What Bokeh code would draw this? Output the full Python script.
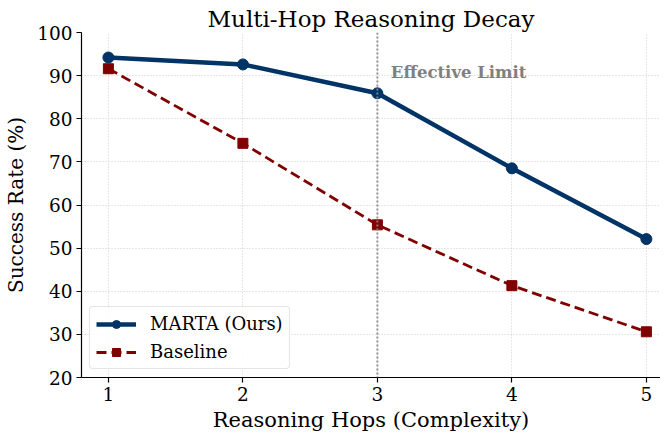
from bokeh.plotting import figure
from bokeh.models import Span, Label, Legend, LegendItem, Range1d
from bokeh.embed import file_html
from bokeh.resources import INLINE

hops = [1, 2, 3, 4, 5]
marta = [94.2, 92.6, 85.9, 68.5, 52.1]
baseline = [91.6, 74.3, 55.4, 41.3, 30.6]
yticks = [20, 30, 40, 50, 60, 70, 80, 90, 100]

FONT = "DejaVu Serif"
BLUE = "#003366"
RED = "#800000"

p = figure(width=660, height=434, output_backend="svg", toolbar_location=None,
           x_range=Range1d(0.8, 5.105), y_range=Range1d(20, 100),
           min_border_left=81, min_border_top=32, min_border_bottom=56, min_border_right=0)
p.outline_line_color = None
p.background_fill_color = "white"
p.border_fill_color = "white"

p.title.text = "Multi-Hop Reasoning Decay"
p.title.text_font = FONT
p.title.text_font_size = "23px"
p.title.text_font_style = "normal"
p.title.text_color = "black"
p.title.align = "center"
p.title.offset = -5
p.title.standoff = 2

for ax in (p.xaxis[0], p.yaxis[0]):
    ax.axis_label_text_font = FONT
    ax.axis_label_text_font_style = "normal"
    ax.axis_label_text_color = "black"
    ax.major_label_text_font = FONT
    ax.major_label_text_font_size = "18.5px"
    ax.major_label_text_color = "black"
    ax.minor_tick_line_color = None
    ax.major_tick_out = 5
    ax.major_tick_in = 0
    ax.axis_line_color = "black"
    ax.axis_line_width = 1.2
    ax.major_tick_line_width = 1.2
    ax.major_label_standoff = 4

p.xaxis.axis_label = "Reasoning Hops (Complexity)"
p.yaxis.axis_label = "Success Rate (%)"
p.xaxis.axis_label_text_font_size = "21px"
p.yaxis.axis_label_text_font_size = "20px"
p.xaxis.ticker = hops
p.yaxis.ticker = yticks
p.xaxis.axis_label_standoff = 4
p.yaxis.axis_label_standoff = 6

p.grid.grid_line_color = "#cfcfcf"
p.grid.grid_line_dash = "1 2"
p.grid.grid_line_width = 1

vline = Span(location=3, dimension="height", line_color="#8a8a8a", line_dash="2 2",
             line_width=2, line_alpha=0.9)
p.add_layout(vline)
p.add_layout(Label(x=3.1, y=88.6, text="Effective Limit", text_font=FONT,
                   text_font_size="16.5px", text_font_style="bold", text_color="#808080"))

l1 = p.line(hops, marta, line_color=BLUE, line_width=4.5)
m1 = p.scatter(hops, marta, marker="circle", size=11, fill_color=BLUE, line_color=BLUE)
l2 = p.line(hops, baseline, line_color=RED, line_width=2.8, line_dash="10 5")
m2 = p.scatter(hops, baseline, marker="square", size=10, fill_color=RED, line_color=RED)

legend = Legend(items=[LegendItem(label="MARTA (Ours)", renderers=[l1, m1]),
                       LegendItem(label="Baseline", renderers=[l2, m2])],
                location="bottom_left")
legend.label_text_font = FONT
legend.label_text_font_size = "18px"
legend.label_text_color = "black"
legend.border_line_color = "#cccccc"
legend.border_line_width = 1
legend.border_radius = 4
legend.background_fill_alpha = 0.85
legend.glyph_width = 40
legend.glyph_height = 20
legend.label_height = 20
legend.label_standoff = 14
legend.spacing = 7
legend.padding = 6
legend.margin = 8
p.add_layout(legend)

open("out.html", "w").write(file_html(p, INLINE))
